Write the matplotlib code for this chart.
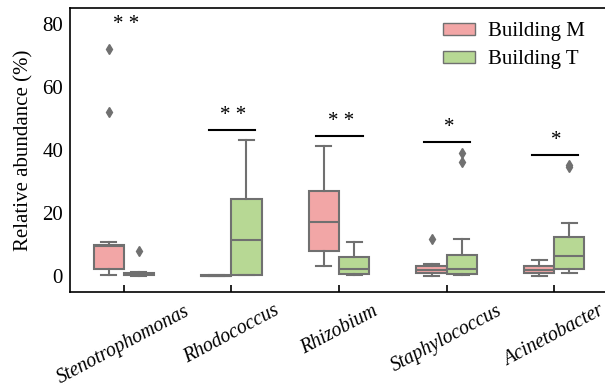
import matplotlib
matplotlib.use("Agg")
import matplotlib.pyplot as plt
from matplotlib.patches import Patch
from matplotlib.transforms import ScaledTranslation

plt.rcParams['font.family'] = ['Liberation Serif', 'DejaVu Serif']
plt.rcParams['font.size'] = 15

# genera and significance labels
genera = ['Stenotrophomonas', 'Rhodococcus', 'Rhizobium', 'Staphylococcus', 'Acinetobacter']
signif = ['**', '**', '**', '*', '*']
signif_line = [None, 46.3, 44.5, 42.4, 38.5]
signif_text = [79.7, 51.0, 49.0, 47.0, 43.0]

# box statistics (%), Building M
m_whislo = [0.2, 0.05, 3.0, 0.0, 0.0]
m_q1 = [2.1, 0.05, 8.0, 0.9, 0.9]
m_med = [9.6, 0.1, 17.0, 1.9, 1.9]
m_q3 = [9.8, 0.15, 27.0, 3.0, 3.0]
m_whishi = [10.9, 0.2, 41.1, 3.7, 4.9]
m_fliers = [[72.0, 51.9], [], [], [11.8], []]

# Building T
t_whislo = [0.1, 0.2, 0.2, 0.2, 1.0]
t_q1 = [0.2, 0.4, 0.6, 0.6, 2.1]
t_med = [0.5, 11.4, 2.1, 2.1, 6.3]
t_q3 = [0.9, 24.3, 6.1, 6.7, 12.3]
t_whishi = [1.2, 43.0, 10.9, 11.8, 16.9]
t_fliers = [[7.8], [], [], [38.9, 36.0], [35.2, 34.4]]

pink = '#F2A6A6'
green = '#B7D894'
edge = '#707070'


def make_stats(lo, q1, med, q3, hi, fl):
    return [dict(whislo=a, q1=b, med=c, q3=d, whishi=e, fliers=f)
            for a, b, c, d, e, f in zip(lo, q1, med, q3, hi, fl)]


fig = plt.figure(figsize=(6.05, 3.91), dpi=100)
# right spine sits just past the image edge, as in the original crop
ax = fig.add_axes([70 / 605, 1 - 292 / 391, 544 / 605, 284 / 391])

pos = list(range(len(genera)))
w = 0.28
common = dict(widths=w, patch_artist=True, manage_ticks=False,
              whiskerprops=dict(color=edge, lw=1.5),
              capprops=dict(color=edge, lw=1.5),
              medianprops=dict(color=edge, lw=1.5),
              flierprops=dict(marker='d', markerfacecolor=edge, markeredgecolor=edge,
                              markersize=5))

bm = ax.bxp(make_stats(m_whislo, m_q1, m_med, m_q3, m_whishi, m_fliers),
            positions=[p - w / 2 for p in pos],
            boxprops=dict(facecolor=pink, edgecolor=edge, lw=1.5), **common)
bt = ax.bxp(make_stats(t_whislo, t_q1, t_med, t_q3, t_whishi, t_fliers),
            positions=[p + w / 2 for p in pos],
            boxprops=dict(facecolor=green, edgecolor=edge, lw=1.5), **common)

# significance marks
for p, s, ly, ty in zip(pos, signif, signif_line, signif_text):
    if ly is not None:
        ax.plot([p - 0.21, p + 0.22], [ly, ly], color='black', lw=1.5)
    ax.text(p + 0.02, ty, s.replace('**', '* *'), ha='center', va='center', fontsize=15)

ax.set_xlim(-0.5, len(genera) - 0.5 + 6 / 107.5)
ax.set_ylim(-5.1, 85)
ax.set_yticks([0, 20, 40, 60, 80])
ax.set_xticks(pos)
ax.set_xticklabels(genera, rotation=28, ha='center', style='italic', fontsize=14.2)
# nudge tick labels a little to the left so the last one fits
shift = ScaledTranslation(-5 / 100, 0, fig.dpi_scale_trans)
for lab in ax.get_xticklabels():
    lab.set_transform(lab.get_transform() + shift)
ax.tick_params(axis='x', direction='in', length=5, width=1.2, pad=7)
ax.tick_params(axis='y', length=0, pad=5)
ax.set_ylabel('Relative abundance (%)', labelpad=6)
for sp in ax.spines.values():
    sp.set_linewidth(1.2)

handles = [Patch(facecolor=pink, edgecolor=edge, label='Building M'),
           Patch(facecolor=green, edgecolor=edge, label='Building T')]
fig.legend(handles=handles, loc='upper left', bbox_to_anchor=(443 / 605, 1 - 22 / 391),
           frameon=False, borderpad=0, borderaxespad=0, handlelength=1.55,
           handleheight=0.5, handletextpad=0.6, labelspacing=0.45, fontsize=15)

fig.savefig('out.png', dpi=100)
